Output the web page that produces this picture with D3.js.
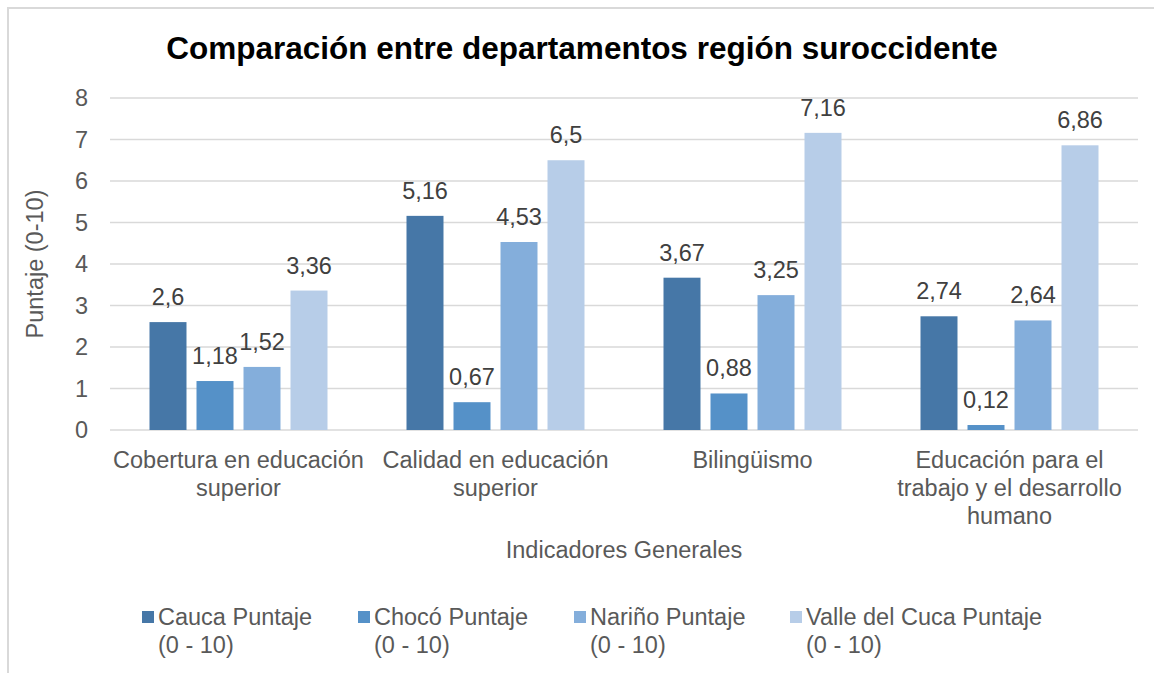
<!DOCTYPE html>
<html lang="es">
<head>
    <meta charset="UTF-8">
    <title>Comparación entre departamentos región suroccidente</title>
    <script src="https://d3js.org/d3.v7.min.js"></script>
    <style>
        body { margin: 0; background: #fff; }
        text { font-family: "Liberation Sans", Arial, sans-serif; }
    </style>
</head>
<body>
    <div id="chart"></div>
    <script>
        // Data
        const categories = [
            "Cobertura en educación superior",
            "Calidad en educación superior",
            "Bilingüismo",
            "Educación para el trabajo y el desarrollo humano"
        ];
        // wrapped tick labels, as shown under the axis
        const tickLines = [
            ["Cobertura en educación", "superior"],
            ["Calidad en educación", "superior"],
            ["Bilingüismo"],
            ["Educación para el", "trabajo y el desarrollo", "humano"]
        ];
        const seriesNames = ["Cauca Puntaje", "Chocó Puntaje", "Nariño Puntaje", "Valle del Cuca Puntaje"];
        const cauca = [2.6, 5.16, 3.67, 2.74];
        const choco = [1.18, 0.67, 0.88, 0.12];
        const narino = [1.52, 4.53, 3.25, 2.64];
        const valle = [3.36, 6.5, 7.16, 6.86];
        const yTicks = [0, 1, 2, 3, 4, 5, 6, 7, 8];

        const seriesValues = [cauca, choco, narino, valle];
        const colors = ["#4677a7", "#5591c8", "#84aedb", "#b7cde8"];

        const width = 1154, height = 673;
        const margin = { top: 98, right: 16, bottom: 243, left: 110 };
        const fs = "23.5px";

        const svg = d3.select("#chart").append("svg")
            .attr("width", width)
            .attr("height", height);

        // chart frame (runs off the right and bottom edges)
        svg.append("rect")
            .attr("x", 8).attr("y", 8)
            .attr("width", width + 20).attr("height", height + 20)
            .attr("fill", "#fff")
            .attr("stroke", "#d9d9d9")
            .attr("stroke-width", 2);

        // scales
        const x0 = d3.scaleBand()
            .domain(categories)
            .range([margin.left, width - margin.right])
            .padding(0);

        const x1 = d3.scaleBand()
            .domain(seriesNames)
            .range([0, 178])
            .paddingInner(0.213)
            .paddingOuter(0);

        const y = d3.scaleLinear()
            .domain([0, 8])
            .range([height - margin.bottom, margin.top]);

        // gridlines
        svg.append("g")
            .selectAll("line")
            .data(yTicks)
            .join("line")
            .attr("x1", margin.left)
            .attr("x2", width - margin.right)
            .attr("y1", d => y(d))
            .attr("y2", d => y(d))
            .attr("stroke", "#d9d9d9")
            .attr("stroke-width", 1.5);

        // y axis labels
        const yAxis = d3.axisLeft(y).tickValues(yTicks).tickSize(0).tickPadding(22);
        const yG = svg.append("g")
            .attr("transform", `translate(${margin.left},0)`)
            .call(yAxis);
        yG.select(".domain").remove();
        yG.selectAll("text")
            .attr("fill", "#595959")
            .style("font-family", "'Liberation Sans', Arial, sans-serif")
            .style("font-size", fs);

        // bars
        const groups = svg.append("g")
            .selectAll("g")
            .data(categories)
            .join("g")
            .attr("transform", d => `translate(${x0(d) + (x0.bandwidth() - 178) / 2},0)`);

        groups.each(function (cat, ci) {
            const g = d3.select(this);
            seriesNames.forEach((s, si) => {
                const v = seriesValues[si][ci];
                g.append("rect")
                    .attr("x", x1(s))
                    .attr("y", y(v))
                    .attr("width", x1.bandwidth())
                    .attr("height", y(0) - y(v))
                    .attr("fill", colors[si]);
                g.append("text")
                    .attr("x", x1(s) + x1.bandwidth() / 2)
                    .attr("y", y(v) - 17)
                    .attr("text-anchor", "middle")
                    .attr("fill", "#404040")
                    .style("font-size", fs)
                    .text(String(v).replace(".", ","));
            });
        });

        // category labels
        const catG = svg.append("g")
            .selectAll("text")
            .data(categories)
            .join("text")
            .attr("text-anchor", "middle")
            .attr("fill", "#595959")
            .style("font-size", fs)
            .attr("transform", d => `translate(${x0(d) + x0.bandwidth() / 2},${y(0) + 38})`);

        catG.selectAll("tspan")
            .data((d, i) => tickLines[i])
            .join("tspan")
            .attr("x", 0)
            .attr("dy", (d, i) => i === 0 ? 0 : 28)
            .text(d => d);

        // title
        svg.append("text")
            .attr("x", 582)
            .attr("y", 59)
            .attr("text-anchor", "middle")
            .attr("fill", "#000")
            .style("font-size", "31.5px")
            .style("font-weight", "bold")
            .text("Comparación entre departamentos región suroccidente");

        // axis titles
        svg.append("text")
            .attr("x", (margin.left + width - margin.right) / 2)
            .attr("y", 558)
            .attr("text-anchor", "middle")
            .attr("fill", "#595959")
            .style("font-size", fs)
            .text("Indicadores Generales");

        svg.append("text")
            .attr("transform", `translate(43,${(y(0) + y(8)) / 2}) rotate(-90)`)
            .attr("text-anchor", "middle")
            .attr("fill", "#595959")
            .style("font-size", fs)
            .text("Puntaje (0-10)");

        // legend
        const legend = svg.append("g")
            .selectAll("g")
            .data(seriesNames)
            .join("g")
            .attr("transform", (d, i) => `translate(${142 + i * 216},611)`);

        legend.append("rect")
            .attr("width", 12)
            .attr("height", 12)
            .attr("fill", (d, i) => colors[i]);

        const lt = legend.append("text")
            .attr("fill", "#595959")
            .style("font-size", fs);
        lt.append("tspan").attr("x", 16).attr("y", 14).text(d => d);
        lt.append("tspan").attr("x", 16).attr("y", 42).text("(0 - 10)");
    </script>
</body>
</html>
